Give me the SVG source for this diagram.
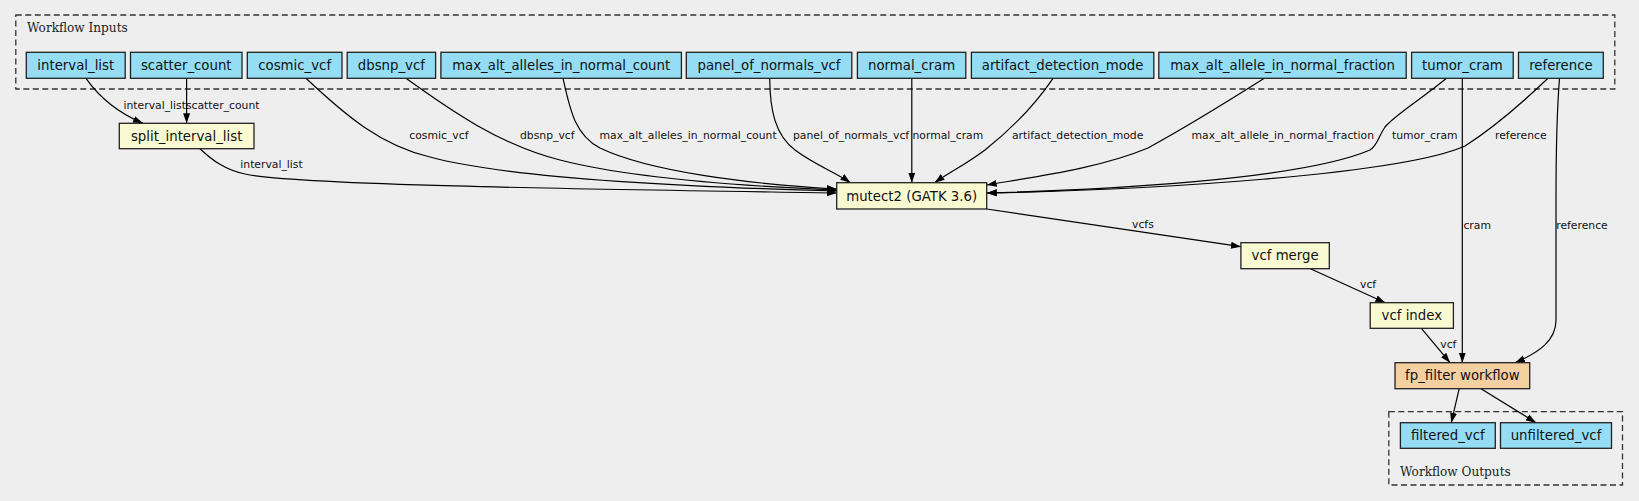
<svg xmlns="http://www.w3.org/2000/svg" width="1639" height="501" viewBox="0 0 1639 501">
<defs>
<marker id="arr" markerUnits="userSpaceOnUse" markerWidth="10" markerHeight="8" viewBox="0 0 10 7" refX="10" refY="3.5" orient="auto">
<path d="M0,0 L10,3.5 L0,7 z" fill="#000"/>
</marker>
<style>
.cl{fill:none;stroke:#333;stroke-width:1.3;stroke-dasharray:6,3.5}
.ct{font-family:"DejaVu Serif",serif;font-size:12.1px;fill:#222}
.in{fill:#94ddf5;stroke:#222;stroke-width:1.3}
.tl{fill:#fafad2;stroke:#222;stroke-width:1.3}
.wf{fill:#f4cfa0;stroke:#222;stroke-width:1.3}
.nt{font-family:"DejaVu Sans",sans-serif;font-size:13.3px;fill:#111;text-anchor:middle}
.e{fill:none;stroke:#000;stroke-width:1.2;marker-end:url(#arr)}
.el{font-family:"DejaVu Sans",sans-serif;font-size:10.8px;fill:#111}
</style>
</defs>
<rect width="1639" height="501" fill="#eeeeee"/>

<g id="cluster_inputs">
<rect class="cl" x="15.8" y="15" width="1599" height="74"/>
<text class="ct" x="27" y="31.5">Workflow Inputs</text>
</g>
<g id="cluster_outputs">
<rect class="cl" x="1388.8" y="411.7" width="233.7" height="73.3"/>
<text class="ct" x="1400" y="476">Workflow Outputs</text>
</g>

<g id="connectors">
<path class="e" d="M86,78.3 C97,94 114,111 143,123.3"/>
<path class="e" d="M186.6,78.3 L186.6,123.3"/>
<path class="e" d="M200,148.7 C212,160 225,170 245,174 C300,186 650,190 836.7,193"/>
<path class="e" d="M306,78.3 C345,115 380,145 430,157 C500,176 650,186 836.7,191"/>
<path class="e" d="M406,78.3 C450,110 500,145 560,160 C630,178 740,186 836.7,190"/>
<path class="e" d="M563,78.3 C570,110 575,135 600,148 C650,172 750,184 836.7,189"/>
<path class="e" d="M769.7,78.3 C770,110 775,135 795,150 C815,165 835,172 850.4,182.7"/>
<path class="e" d="M911.8,78.3 L911.8,182.7"/>
<path class="e" d="M1053,78.3 C1035,105 1010,130 985,150 C965,165 950,172 934.6,182.7"/>
<path class="e" d="M1264.3,78.3 C1230,100 1190,125 1148,148 C1100,168 1040,176 986.7,185"/>
<path class="e" d="M1446.5,78.3 C1420,100 1395,115 1385,127 C1378,137 1378,145 1370,150 C1300,180 1100,190 986.7,193"/>
<path class="e" d="M1548,78.3 C1520,105 1490,130 1465,146 C1400,175 1150,190 986.7,193"/>
<path class="e" d="M1462.3,78.3 L1462.3,362.7"/>
<path class="e" d="M1559.5,78.3 C1557,110 1556,150 1556,200 L1556,320 C1556,340 1540,352 1515,362.7"/>
<path class="e" d="M986.7,209 L1240.9,246.7"/>
<path class="e" d="M1310.4,268.7 L1385.3,302.7"/>
<path class="e" d="M1421.4,328.3 L1450,362.7"/>
<path class="e" d="M1459.2,388.7 L1451.3,422.7"/>
<path class="e" d="M1481,388.7 L1536,422.7"/>
<text class="el" x="123.5" y="109">interval_list</text>
<text class="el" x="185.9" y="109">scatter_count</text>
<text class="el" x="240.3" y="168">interval_list</text>
<text class="el" x="409.3" y="139">cosmic_vcf</text>
<text class="el" x="520" y="139">dbsnp_vcf</text>
<text class="el" x="599.6" y="139">max_alt_alleles_in_normal_count</text>
<text class="el" x="793" y="139">panel_of_normals_vcf</text>
<text class="el" x="912.5" y="139">normal_cram</text>
<text class="el" x="1012" y="139">artifact_detection_mode</text>
<text class="el" x="1191.6" y="139">max_alt_allele_in_normal_fraction</text>
<text class="el" x="1392" y="139">tumor_cram</text>
<text class="el" x="1495" y="139">reference</text>
<text class="el" x="1132" y="228">vcfs</text>
<text class="el" x="1463.4" y="229">cram</text>
<text class="el" x="1556.2" y="229">reference</text>
<text class="el" x="1360" y="288">vcf</text>
<text class="el" x="1440.3" y="348">vcf</text>
</g>

<g id="interval_list"><rect class="in" x="26.3" y="52.3" width="98.9" height="26"/><text class="nt" x="75.75" y="70">interval_list</text></g>
<g id="scatter_count"><rect class="in" x="130.5" y="52.3" width="111.5" height="26"/><text class="nt" x="186.25" y="70">scatter_count</text></g>
<g id="cosmic_vcf"><rect class="in" x="247.3" y="52.3" width="94.7" height="26"/><text class="nt" x="294.65" y="70">cosmic_vcf</text></g>
<g id="dbsnp_vcf"><rect class="in" x="347.2" y="52.3" width="88.4" height="26"/><text class="nt" x="391.4" y="70">dbsnp_vcf</text></g>
<g id="max_alt_alleles_in_normal_count"><rect class="in" x="440.9" y="52.3" width="240.5" height="26"/><text class="nt" x="561.15" y="70">max_alt_alleles_in_normal_count</text></g>
<g id="panel_of_normals_vcf"><rect class="in" x="686.3" y="52.3" width="165.5" height="26"/><text class="nt" x="769.05" y="70">panel_of_normals_vcf</text></g>
<g id="normal_cram"><rect class="in" x="857.4" y="52.3" width="108.4" height="26"/><text class="nt" x="911.6" y="70">normal_cram</text></g>
<g id="artifact_detection_mode"><rect class="in" x="971.4" y="52.3" width="182.4" height="26"/><text class="nt" x="1062.6" y="70">artifact_detection_mode</text></g>
<g id="max_alt_allele_in_normal_fraction"><rect class="in" x="1158.8" y="52.3" width="247.4" height="26"/><text class="nt" x="1282.5" y="70">max_alt_allele_in_normal_fraction</text></g>
<g id="tumor_cram"><rect class="in" x="1411.6" y="52.3" width="101.6" height="26"/><text class="nt" x="1462.4" y="70">tumor_cram</text></g>
<g id="reference"><rect class="in" x="1518.5" y="52.3" width="84.8" height="26"/><text class="nt" x="1560.9" y="70">reference</text></g>

<g id="split_interval_list"><rect class="tl" x="119.3" y="123.3" width="134.7" height="25.4"/><text class="nt" x="186.65" y="140.7">split_interval_list</text></g>
<g id="mutect2"><rect class="tl" x="836.7" y="182.7" width="150" height="26.3"/><text class="nt" x="911.7" y="200.5">mutect2 (GATK 3.6)</text></g>
<g id="vcf_merge"><rect class="tl" x="1240.9" y="242.7" width="88.4" height="26"/><text class="nt" x="1285.1" y="260.4">vcf merge</text></g>
<g id="vcf_index"><rect class="tl" x="1370.2" y="302.7" width="83.2" height="25.6"/><text class="nt" x="1411.8" y="320.2">vcf index</text></g>
<g id="fp_filter"><rect class="wf" x="1395" y="362.7" width="134.7" height="26"/><text class="nt" x="1462.35" y="380.4">fp_filter workflow</text></g>
<g id="filtered_vcf"><rect class="in" x="1400.4" y="422.7" width="94.9" height="25.6"/><text class="nt" x="1447.85" y="440.2">filtered_vcf</text></g>
<g id="unfiltered_vcf"><rect class="in" x="1500.5" y="422.7" width="111" height="25.6"/><text class="nt" x="1556" y="440.2">unfiltered_vcf</text></g>
</svg>
